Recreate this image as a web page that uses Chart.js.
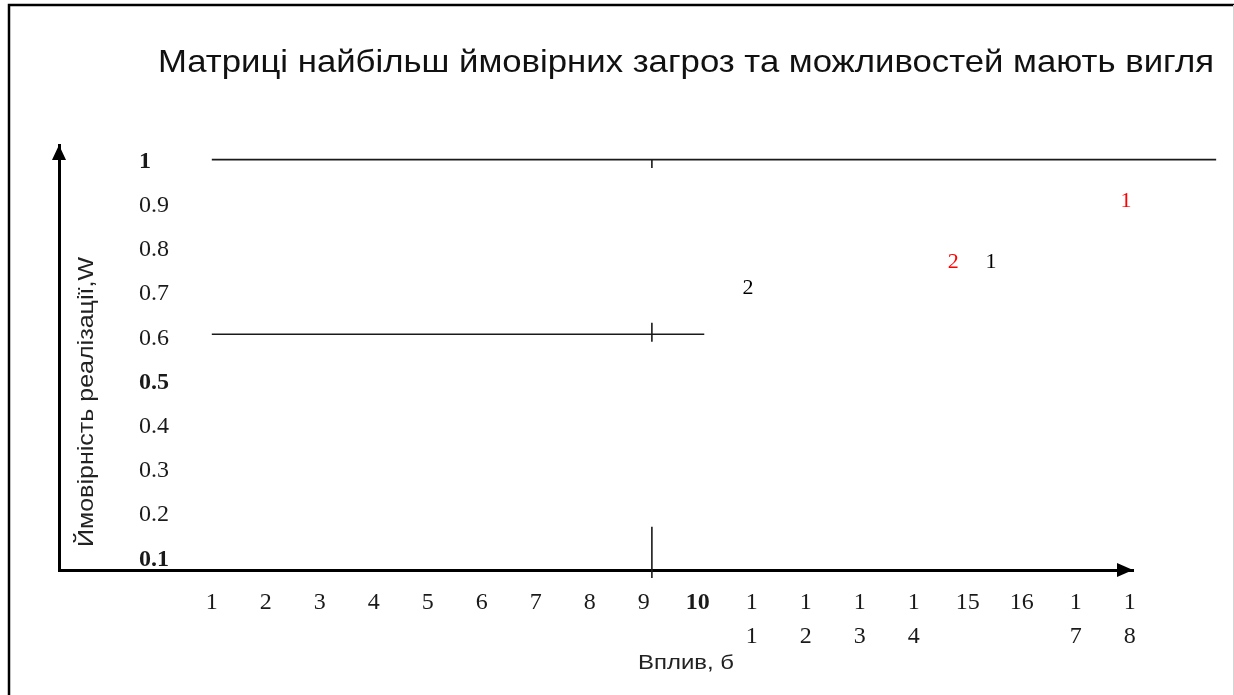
<!DOCTYPE html>
<html lang="uk">
<head>
<meta charset="utf-8">
<title>Матриці загроз та можливостей</title>
<script src="https://cdn.jsdelivr.net/npm/chart.js@4.4.1/dist/chart.umd.min.js"></script>
<style>
    html, body { margin: 0; padding: 0; background: #fff; }
    #matrixChart { display: block; }
</style>
</head>
<body>
<canvas id="matrixChart" width="1234" height="695"></canvas>
<script>
const chartTitle = 'Матриці найбільш ймовірних загроз та можливостей мають вигля';
const xAxisTitle = 'Вплив, б';
const yAxisTitle = 'Ймовірність реалізації,W';

// вісь впливу
const xTickValues = [1, 2, 3, 4, 5, 6, 7, 8, 9, 10, 11, 12, 13, 14, 15, 16, 17, 18];
const xTickLabels = ['1', '2', '3', '4', '5', '6', '7', '8', '9', '10',
    ['1', '1'], ['1', '2'], ['1', '3'], ['1', '4'], '15', '16', ['1', '7'], ['1', '8']];
const xBoldTicks = [10];

// вісь ймовірності
const yTickValues = [0.1, 0.2, 0.3, 0.4, 0.5, 0.6, 0.7, 0.8, 0.9, 1];
const yTickLabels = ['0.1', '0.2', '0.3', '0.4', '0.5', '0.6', '0.7', '0.8', '0.9', '1'];
const yBoldTicks = [0.1, 0.5, 1];

// червоні номери (загрози)
const threatLabels = ['1', '2'];
const threatX = [17.93, 14.73];
const threatY = [0.91, 0.772];

// чорні номери (можливості)
const chanceLabels = ['1', '2'];
const chanceX = [15.43, 10.93];
const chanceY = [0.772, 0.713];

// лінії матриці
const topBorderX = [1.0, 19.6];
const topBorderY = [1.004, 1.004];
const midBorderX = [1.0, 10.12];
const midBorderY = [0.609, 0.609];
const splitX = 9.15;
const splitY = [1.004, 0.985, null, 0.635, 0.592, null, 0.174, 0.058];

const xMin = -1.83, xMax = 18.06;
const yMin = 0.076, yMax = 1.037;

function toPoints(xs, ys) {
    return xs.map((x, i) => ({x: x, y: ys[i]}));
}

// текст, розтягнутий до потрібної ширини (як на скані)
function stretchText(ctx, text, width) {
    const w = ctx.measureText(text).width;
    ctx.save();
    ctx.scale(width / w, 1);
    ctx.fillText(text, 0, 0);
    ctx.restore();
}

const numberLabels = {
    id: 'numberLabels',
    afterDatasetsDraw(chart) {
        const ctx = chart.ctx;
        chart.data.datasets.forEach((ds, i) => {
            if (!ds.numbers) return;
            const meta = chart.getDatasetMeta(i);
            ctx.save();
            ctx.font = '22px "Liberation Serif"';
            ctx.fillStyle = ds.numberColor;
            ctx.textAlign = 'center';
            ctx.textBaseline = 'middle';
            meta.data.forEach((pt, j) => ctx.fillText(ds.numbers[j], pt.x, pt.y));
            ctx.restore();
        });
    }
};

const sketchDecor = {
    id: 'sketchDecor',
    beforeDraw(chart) {
        const ctx = chart.ctx;
        ctx.save();
        ctx.fillStyle = '#fff';
        ctx.fillRect(0, 0, chart.width, chart.height);
        // рамка
        ctx.strokeStyle = '#000';
        ctx.lineWidth = 2.5;
        ctx.beginPath();
        ctx.moveTo(9, chart.height);
        ctx.lineTo(9, 5);
        ctx.lineTo(chart.width, 5);
        ctx.stroke();
        ctx.strokeStyle = '#d4d4d4';
        ctx.lineWidth = 1;
        ctx.beginPath();
        ctx.moveTo(1233.5, 5);
        ctx.lineTo(1233.5, chart.height);
        ctx.stroke();
        ctx.restore();
    },
    afterDraw(chart) {
        const {ctx, chartArea} = chart;
        ctx.save();
        ctx.fillStyle = '#000';
        ctx.beginPath();
        ctx.moveTo(chartArea.right, chartArea.bottom);
        ctx.lineTo(chartArea.right - 16, chartArea.bottom - 7);
        ctx.lineTo(chartArea.right - 16, chartArea.bottom + 7);
        ctx.closePath();
        ctx.fill();
        ctx.beginPath();
        ctx.moveTo(chartArea.left, chartArea.top);
        ctx.lineTo(chartArea.left - 7, chartArea.top + 15);
        ctx.lineTo(chartArea.left + 7, chartArea.top + 15);
        ctx.closePath();
        ctx.fill();

        // заголовок обрізаний справа рамкою
        ctx.save();
        ctx.beginPath();
        ctx.rect(0, 0, 1216, chart.height);
        ctx.clip();
        ctx.font = '32px "Liberation Sans"';
        ctx.fillStyle = '#111';
        ctx.textBaseline = 'alphabetic';
        ctx.translate(158, 72);
        stretchText(ctx, chartTitle, 1056);
        ctx.restore();

        ctx.font = '21px "Liberation Sans"';
        ctx.fillStyle = '#222';
        ctx.textBaseline = 'middle';
        ctx.save();
        ctx.translate(638, 663);
        stretchText(ctx, xAxisTitle, 96);
        ctx.restore();

        ctx.font = '22px "Liberation Sans"';
        ctx.translate(87, 547);
        ctx.rotate(-Math.PI / 2);
        stretchText(ctx, yAxisTitle, 290);
        ctx.restore();
    }
};

function lineSet(points) {
    return {
        type: 'line',
        data: points,
        borderColor: '#1a1a1a',
        borderWidth: 1.6,
        pointRadius: 0,
        spanGaps: false,
        clip: false
    };
}

function numberSet(xs, ys, labels, color) {
    return {
        type: 'scatter',
        data: toPoints(xs, ys),
        numbers: labels,
        numberColor: color,
        pointRadius: 0,
        clip: false
    };
}

const ctx = document.getElementById('matrixChart').getContext('2d');
const matrixChart = new Chart(ctx, {
    type: 'scatter',
    data: {
        datasets: [
            lineSet(toPoints(topBorderX, topBorderY)),
            lineSet(toPoints(midBorderX, midBorderY)),
            lineSet(splitY.map(y => ({x: splitX, y: y}))),
            numberSet(threatX, threatY, threatLabels, '#ff0000'),
            numberSet(chanceX, chanceY, chanceLabels, '#000000')
        ]
    },
    options: {
        responsive: false,
        devicePixelRatio: 1,
        animation: false,
        layout: {padding: {left: 59, top: 145, right: 101, bottom: 30}},
        plugins: {
            legend: {display: false},
            title: {display: false},
            tooltip: {enabled: false}
        },
        scales: {
            x: {
                type: 'linear',
                min: xMin,
                max: xMax,
                afterBuildTicks: scale => {
                    scale.ticks = xTickValues.map(v => ({value: v}));
                },
                afterFit: scale => { scale.height = 95; },
                grid: {display: false, drawTicks: false},
                border: {display: true, color: '#000', width: 3},
                ticks: {
                    autoSkip: false,
                    maxRotation: 0,
                    padding: 16,
                    color: '#1a1a1a',
                    font: c => ({
                        family: '"Liberation Serif"',
                        size: 24,
                        lineHeight: 1.42,
                        weight: c.tick && xBoldTicks.includes(c.tick.value) ? 'bold' : 'normal'
                    }),
                    callback: value => xTickLabels[xTickValues.indexOf(value)]
                }
            },
            y: {
                type: 'linear',
                min: yMin,
                max: yMax,
                afterBuildTicks: scale => {
                    scale.ticks = yTickValues.map(v => ({value: v}));
                },
                afterFit: scale => { scale.width = 0; },
                grid: {display: false, drawTicks: false},
                border: {display: true, color: '#000', width: 3},
                ticks: {
                    mirror: true,
                    padding: 80,
                    color: '#1a1a1a',
                    font: c => ({
                        family: '"Liberation Serif"',
                        size: 24,
                        weight: c.tick && yBoldTicks.includes(c.tick.value) ? 'bold' : 'normal'
                    }),
                    callback: value => yTickLabels[yTickValues.indexOf(value)]
                }
            }
        }
    },
    plugins: [sketchDecor, numberLabels]
});
</script>
</body>
</html>
